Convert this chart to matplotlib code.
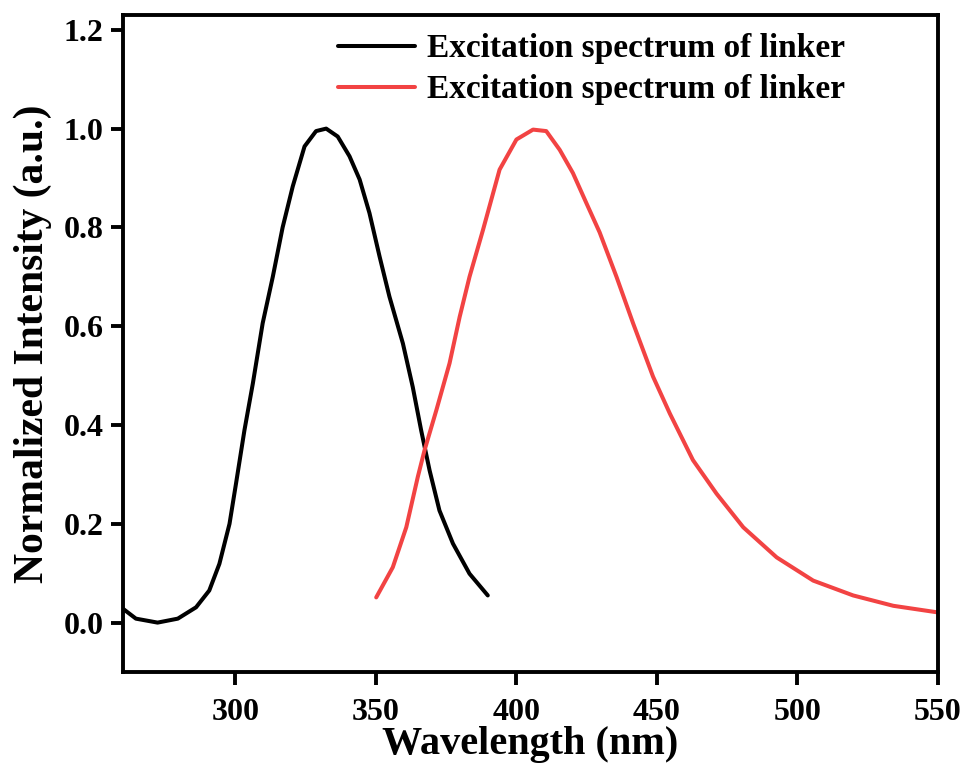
import matplotlib
matplotlib.use("Agg")
import matplotlib.pyplot as plt

plt.rcParams['font.family'] = ['Liberation Serif', 'DejaVu Serif']
plt.rcParams['font.weight'] = 'bold'

# Excitation spectrum (black)
exc_x = [260, 264.6, 272.3, 279.5, 286, 290.7, 294.3, 297.9, 300.2, 303.2, 306.2,
         309.7, 313.3, 316.8, 320.4, 324.6, 328.7, 332.3, 336.4, 340.6, 344.2,
         347.7, 351.3, 354.8, 359.6, 363.1, 366.1, 369.1, 372.6, 377.4, 383.3, 389.8]
exc_y = [0.028, 0.008, 0.0, 0.008, 0.031, 0.065, 0.119, 0.20, 0.281, 0.389, 0.484,
         0.606, 0.70, 0.80, 0.883, 0.964, 0.995, 1.0, 0.984, 0.944, 0.897,
         0.829, 0.741, 0.66, 0.565, 0.477, 0.389, 0.308, 0.227, 0.16, 0.099, 0.055]

# Second spectrum (red)
em_x = [350.1, 356.0, 360.8, 364.9, 367.3, 371.5, 376.2, 379.8, 383.3, 388.1, 394,
        400, 405.9, 410.6, 415.4, 420.1, 424.9, 429.6, 435.6, 441.5, 448.6, 454.6,
        462.8, 471.2, 480.7, 492.6, 505.6, 519.8, 534.1, 549.5]
em_y = [0.051, 0.112, 0.193, 0.295, 0.349, 0.43, 0.525, 0.619, 0.70, 0.795, 0.917,
        0.978, 0.998, 0.995, 0.957, 0.91, 0.849, 0.79, 0.70, 0.606, 0.498, 0.423,
        0.329, 0.261, 0.193, 0.132, 0.085, 0.055, 0.034, 0.021]

labels = ["Excitation spectrum of linker", "Excitation spectrum of linker"]
x_ticks = [300, 350, 400, 450, 500, 550]
y_ticks = [0.0, 0.2, 0.4, 0.6, 0.8, 1.0, 1.2]

fig = plt.figure(figsize=(9.7, 7.69), dpi=100)
ax = fig.add_axes([123/970, 1-672/769, (938-123)/970, (672-15)/769])

ax.plot(exc_x, exc_y, color='black', lw=2.9, label=labels[0],
        solid_joinstyle='round', solid_capstyle='round')
ax.plot(em_x, em_y, color='#F24343', lw=2.9, label=labels[1],
        solid_joinstyle='round', solid_capstyle='round')

ax.set_xlim(260, 550)
ax.set_ylim(-0.1, 1.23)
ax.set_xticks(x_ticks)
ax.set_yticks(y_ticks)
ax.set_xticklabels([str(t) for t in x_ticks])
ax.set_yticklabels([f"{t:.1f}" for t in y_ticks])

for s in ax.spines.values():
    s.set_linewidth(2.8)
ax.tick_params(direction='out', length=9, width=2.8, labelsize=23)
ax.tick_params(axis='x', pad=10)
ax.tick_params(axis='y', pad=5)
for lab in ax.get_xticklabels() + ax.get_yticklabels():
    lab.set_fontweight('bold')

ax.set_xlabel("Wavelength (nm)", fontsize=29, fontweight='bold', labelpad=-1)
ax.set_ylabel("Normalized Intensity (a.u.)", fontsize=30, fontweight='bold', labelpad=8)

leg = ax.legend(loc='upper left', bbox_to_anchor=(0.264, 0.972), frameon=False,
                fontsize=24, handlelength=2.3, handletextpad=0.36, labelspacing=0.3,
                borderpad=0, borderaxespad=0)
for t in leg.get_texts():
    t.set_fontweight('bold')

fig.savefig("out.png", dpi=100)
